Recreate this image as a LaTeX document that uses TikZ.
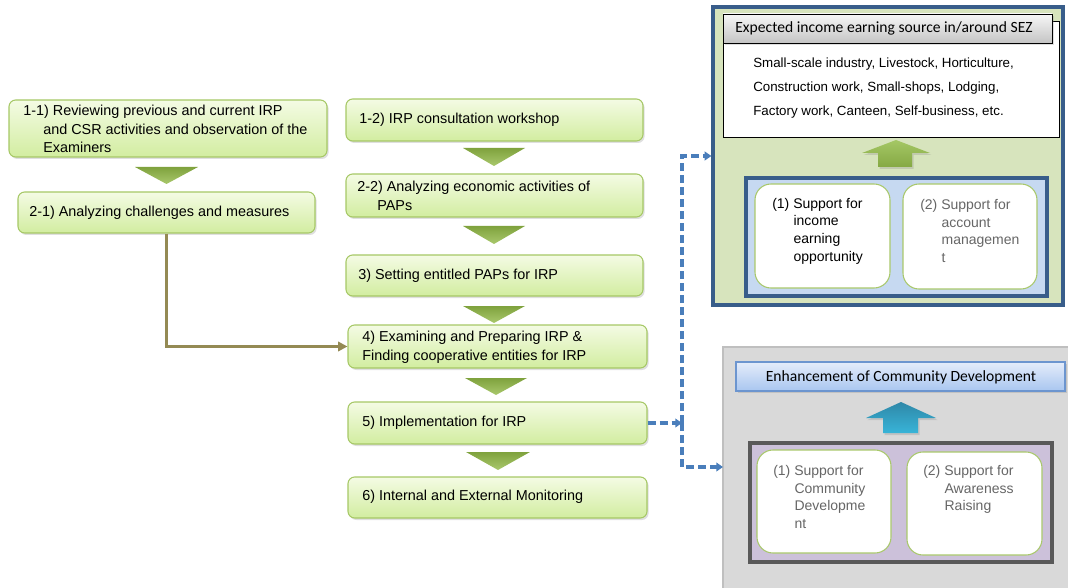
\documentclass[tikz,border=0pt]{standalone}
\usepackage{fontspec}
\setmainfont{Liberation Sans}
\newfontfamily\califont{Carlito}
\usetikzlibrary{fit,shadows,arrows.meta}

\definecolor{gtop}{HTML}{F4FBE4}
\definecolor{gbot}{HTML}{D2EDA0}
\definecolor{gedge}{HTML}{A6C866}
\definecolor{tritop}{HTML}{7FA23D}
\definecolor{tribot}{HTML}{A9C86C}
\definecolor{brownline}{HTML}{948A54}
\definecolor{dashblue}{HTML}{4A7EBB}
\definecolor{panelgreen}{HTML}{D7E4BD}
\definecolor{navy}{HTML}{385D8A}
\definecolor{lightblue}{HTML}{C6D9F1}
\definecolor{panelgray}{HTML}{D9D9D9}
\definecolor{graybord}{HTML}{BFBFBF}
\definecolor{lavender}{HTML}{CCC1DA}
\definecolor{darkgray}{HTML}{595959}
\definecolor{softtext}{HTML}{666666}
\definecolor{hdtop}{HTML}{F7F7F7}
\definecolor{hdbot}{HTML}{C4C4C4}
\definecolor{bltop}{HTML}{E4ECFA}
\definecolor{blbot}{HTML}{A9C6F0}
\definecolor{bledge}{HTML}{6C95CF}
\definecolor{teal1}{HTML}{2F88A8}
\definecolor{teal2}{HTML}{38B4D8}
\definecolor{arrg1}{HTML}{A4C765}
\definecolor{arrg2}{HTML}{86A944}

\tikzset{
  shadowed/.style={drop shadow={shadow xshift=1.2pt,shadow yshift=-1.5pt,opacity=0.25}},
  stepbox/.style={draw=gedge, line width=0.8pt, rounded corners=5pt,
    top color=gtop, bottom color=gbot, inner sep=0pt, shadowed},
  steptext/.style={anchor=west, align=left, inner sep=0pt,
    font=\fontsize{10.8}{14}\selectfont},
  tri/.style={top color=tritop, bottom color=tribot, draw=none},
  roundwhite/.style={draw=tribot, line width=0.8pt, fill=white,
    rounded corners=12pt, inner sep=0pt},
  innertext/.style={anchor=west, align=left, inner sep=0pt,
    font=\fontsize{10.5}{13.2}\selectfont},
  dashlink/.style={dashblue, line width=2.4pt, dash pattern=on 6pt off 3pt,
    -{Triangle[length=5pt,width=6.5pt]}},
}

\begin{document}
\begin{tikzpicture}[x=0.75pt,y=-0.75pt]
\useasboundingbox (0,0) rectangle (1068,588);
\clip (0,0) rectangle (1068,588);

% ---------- left column ----------
\node[stepbox, fit={(9,100) (327,157)}] (b11) {};
\node[steptext] (t11) at (23,129)
  {1-1) Reviewing previous and current IRP\\\hspace*{15pt}and CSR activities and observation of the\\\hspace*{15pt}Examiners};
\shade[tri] (135,167) -- (198,167) -- (166.5,184) -- cycle;
\node[stepbox, fit={(18,192) (315,233)}] (b21) {};
\node[steptext] (t21) at (29,213) {2-1) Analyzing challenges and measures};

% ---------- middle column ----------
\node[stepbox, fit={(346,99) (643,141)}] (b12) {};
\node[steptext] (t12) at (359,120) {1-2) IRP consultation workshop};
\shade[tri] (463,148) -- (525,148) -- (494,166) -- cycle;

\node[stepbox, fit={(346,174) (643,217)}] (b22) {};
\node[steptext] (t22) at (357,196) {2-2) Analyzing economic activities of\\\hspace*{15pt}PAPs};
\shade[tri] (463,226) -- (525,226) -- (494,244) -- cycle;

\node[stepbox, fit={(346,255) (643,296)}] (b3) {};
\node[steptext] (t3) at (358,276) {3) Setting entitled PAPs for IRP};
\shade[tri] (463,306) -- (525,306) -- (494,323) -- cycle;

\node[stepbox, fit={(348,325) (647,368)}] (b4) {};
\node[steptext] (t4) at (362,347) {4) Examining and Preparing IRP \&\\Finding cooperative entities for IRP};
\shade[tri] (465,378) -- (527,378) -- (496,395) -- cycle;

\node[stepbox, fit={(348,402) (647,444)}] (b5) {};
\node[steptext] (t5) at (362,423) {5) Implementation for IRP};
\shade[tri] (466,452) -- (530,452) -- (498,470) -- cycle;

\node[stepbox, fit={(348,477) (647,518)}] (b6) {};
\node[steptext] (t6) at (362,497) {6) Internal and External Monitoring};

% ---------- income panel ----------
\node[draw=navy, line width=2.4pt, fill=panelgreen, inner sep=0pt,
      fit={(713,7) (1063,305)}] (pg) {};
\node[draw=black, line width=0.6pt, fill=white, inner sep=0pt,
      fit={(723,21) (1059,137)}] (wb) {};
\node[draw=black, line width=0.6pt, top color=hdtop, bottom color=hdbot,
      inner sep=0pt, shadowed, fit={(723,14) (1052,43)}] (hd) {};
\node[font=\califont\fontsize{11.7}{13}\selectfont, inner sep=0pt] (hdt) at (884,28.5) {Expected income earning source in/around SEZ};
\node[anchor=west, align=left, inner sep=0pt, font=\fontsize{10}{18}\selectfont] (wbt) at (753,88)
  {Small-scale industry, Livestock, Horticulture,\\Construction work, Small-shops, Lodging,\\Factory work, Canteen, Self-business, etc.};
\shade[top color=arrg1, bottom color=arrg2, shadowed]
  (878,167) -- (878,153) -- (862,153) -- (896,140) -- (930,153) -- (912,153) -- (912,167) -- cycle;
\node[draw=navy, line width=2.4pt, fill=lightblue, inner sep=0pt,
      fit={(746,178) (1047,296)}] (bb) {};
\node[roundwhite, fit={(755,184) (890,288)}] (s1) {};
\node[roundwhite, fit={(903,184) (1037,289)}] (s2) {};
\node[innertext] (s1t) at (772,231) {(1) Support for\\\hspace*{16pt}income\\\hspace*{16pt}earning\\\hspace*{16pt}opportunity};
\node[innertext, text=softtext] (s2t) at (920,231) {(2) Support for\\\hspace*{16pt}account\\\hspace*{16pt}managemen\\\hspace*{16pt}t};

% ---------- community panel ----------
\node[draw=graybord, line width=1.6pt, fill=panelgray, inner sep=0pt,
      fit={(723,347) (1080,600)}] (gp) {};
\node[draw=bledge, line width=0.8pt, top color=bltop, bottom color=blbot,
      inner sep=0pt, shadowed, fit={(736,362) (1065,391)}] (eh) {};
\node[font=\califont\fontsize{11.7}{13}\selectfont, inner sep=0pt] (eht) at (901,377) {Enhancement of Community Development};
\shade[top color=teal1, bottom color=teal2, shadowed]
  (883,433) -- (883,418) -- (866,418) -- (901,402) -- (936,418) -- (918,418) -- (918,433) -- cycle;
\node[draw=darkgray, line width=2.4pt, fill=lavender, inner sep=0pt,
      fit={(750,443) (1052,562)}] (lb) {};
\node[roundwhite, fit={(757,450) (891,553)}] (c1) {};
\node[roundwhite, fit={(907,452) (1042,555)}] (c2) {};
\node[innertext, text=softtext] (c1t) at (773,497) {(1) Support for\\\hspace*{16pt}Community\\\hspace*{16pt}Developme\\\hspace*{16pt}nt};
\node[innertext, text=softtext] (c2t) at (923,489.5) {(2) Support for\\\hspace*{16pt}Awareness\\\hspace*{16pt}Raising};

% ---------- connectors ----------
\draw[brownline, line width=2pt, -{Triangle[length=7pt,width=7pt]}]
  (b21.south) |- (b4.west);

\coordinate (split) at (682,423);
\coordinate (lowin) at (723,467);
\draw[dashlink] (b5.east) -- (split);
\draw[dashlink] (split) |- (pg.west);
\draw[dashlink] (split) |- (lowin);
\end{tikzpicture}
\end{document}
